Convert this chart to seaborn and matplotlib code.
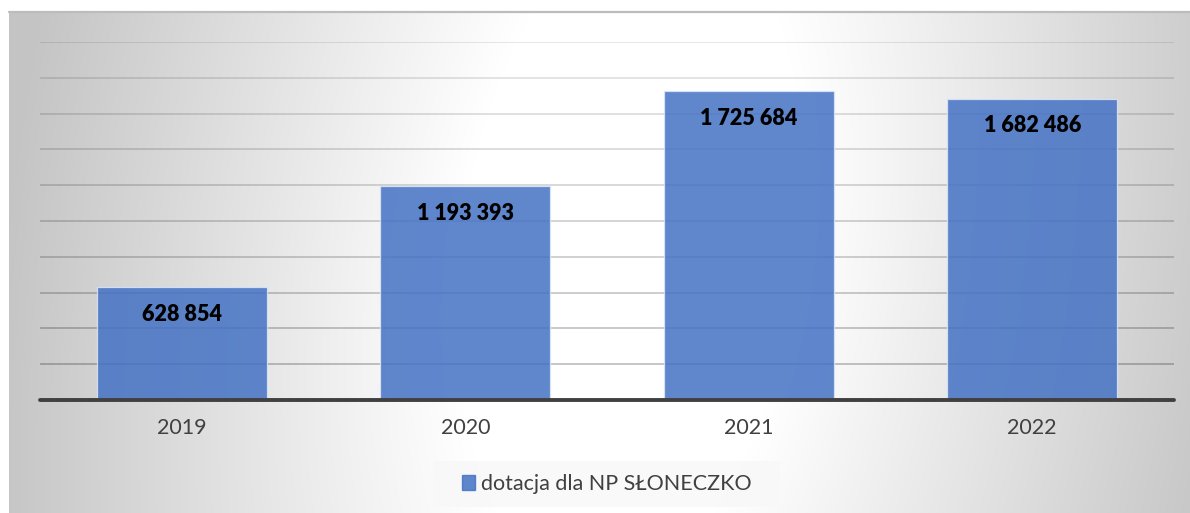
import numpy as np
import pandas as pd
import matplotlib
matplotlib.use("Agg")
import matplotlib.pyplot as plt
from matplotlib.patches import Rectangle, Patch
from matplotlib.lines import Line2D
import seaborn as sns

# Grant amounts per year
years = ["2019", "2020", "2021", "2022"]
amounts = [628854, 1193393, 1725684, 1682486]
series_name = "dotacja dla NP SŁONECZKO"

df = pd.DataFrame({"rok": years, "kwota": amounts})

sns.set_theme(style="white")
plt.rcParams["font.family"] = ["Lato", "DejaVu Sans"]

W, H = 1190, 513
fig = plt.figure(figsize=(W / 100, H / 100), dpi=100)
fig.patch.set_facecolor("white")

# Grey backdrop of the chart area, fading to white along a slightly tilted centre band
x0, ytop = 9, 12
bw, bh = W - x0, H - ytop
yy, xx = np.mgrid[0:bh, 0:bw]
px = xx + x0
py = yy + ytop
centre_x = 630 - 0.1 * (py - 250)
r = np.hypot(px - centre_x, 0.5 * (py - 250))
t = np.clip((r - 170) / 460, 0, 1)
lum = (255 - t * (255 - 196)) / 255.0
bg = np.dstack([lum, lum, lum])
fig.figimage(bg, xo=x0, yo=0, origin="upper", zorder=0)
fig.add_artist(Line2D([x0 / W, 1], [1 - ytop / H, 1 - ytop / H],
                      transform=fig.transFigure, color="#bcbcbc", lw=1.6, zorder=1))

ax = fig.add_axes([40 / W, (H - 400) / H, 1134 / W, 358 / H])
ax.set_zorder(3)
ax.patch.set_visible(False)

sns.barplot(data=df, x="rok", y="kwota", ax=ax, width=0.6, saturation=1,
            color="#4472C4", alpha=0.85, edgecolor="#dde7f6", linewidth=0.9,
            zorder=3)

ax.set_ylim(0, 2_000_000)
ax.set_yticks(np.arange(0, 2_000_001, 200_000))
ax.set_yticklabels([])
ax.set_xlabel("")
ax.set_ylabel("")
for s in ax.spines.values():
    s.set_visible(False)

# Horizontal gridlines, fainter toward the top
ticks = ax.get_yticks()
for v in ticks[1:]:
    frac = v / 2_000_000
    a = 0.26 - 0.16 * frac
    ax.axhline(v, color="black", alpha=a, lw=1.3, zorder=1)
ax.axhline(0, color="#404040", lw=2.8, zorder=4, clip_on=False)

ax.tick_params(axis="x", length=0, pad=13, labelsize=15.5, labelcolor="#404040")
ax.tick_params(axis="y", length=0)

# Value labels just inside the top of each bar
for i, v in enumerate(amounts):
    txt = f"{v:,}".replace(",", " ")
    ax.annotate(txt, (i, v), xytext=(0, -27), textcoords="offset pixels",
                ha="center", va="center", fontsize=15.5, fontweight="heavy",
                color="black", zorder=5)

# Legend panel
fig.add_artist(Rectangle((433 / W, (H - 507) / H), 347 / W, 46 / H,
                         transform=fig.transFigure, facecolor="#f8f8f8",
                         edgecolor="none", alpha=0.85, zorder=2))
handle = Patch(facecolor="#4472C4", alpha=0.85, edgecolor="#4472C4")
leg = fig.legend([handle], [series_name], loc="center",
                 bbox_to_anchor=(606.5 / W, (H - 484) / H), frameon=False,
                 fontsize=15.5, handlelength=0.65, handleheight=0.65,
                 handletextpad=0.25, labelcolor="#404040")
leg.set_zorder(4)

fig.savefig("out.png", dpi=100)
